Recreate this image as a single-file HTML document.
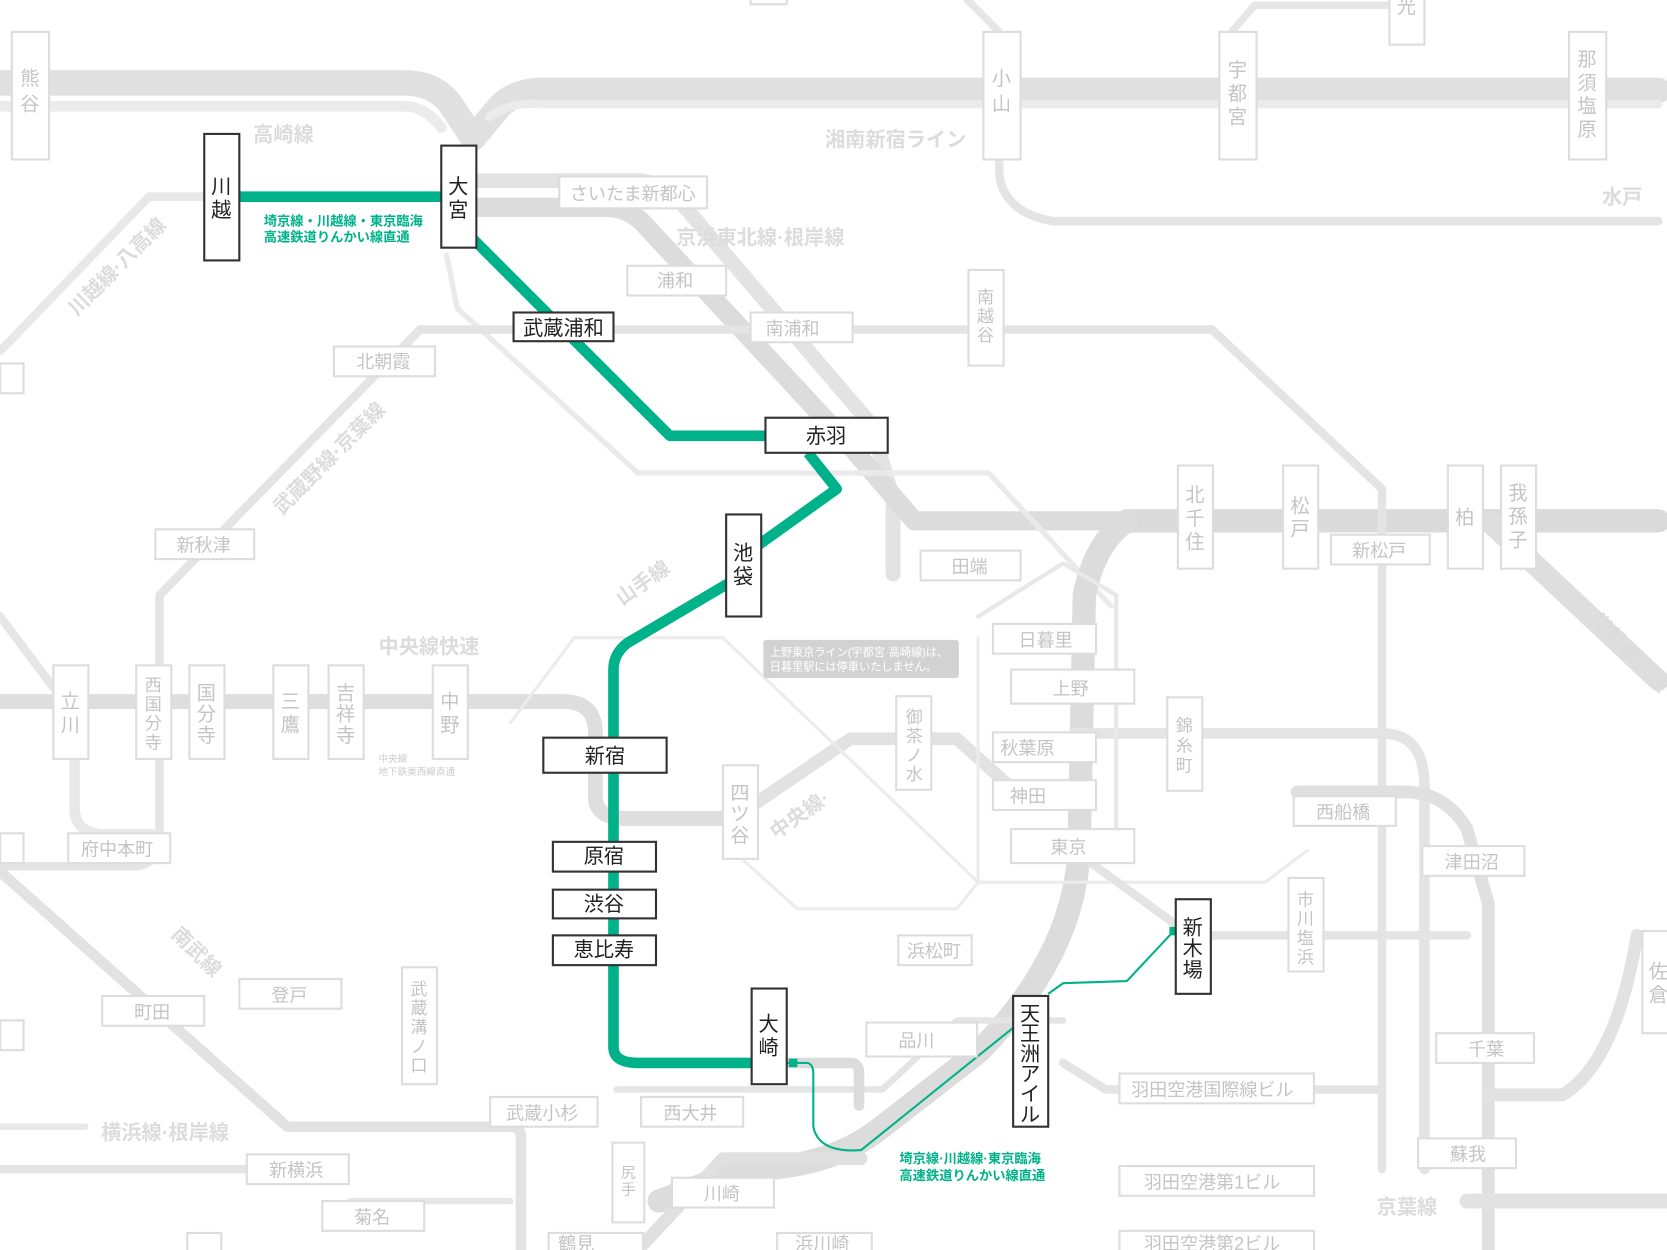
<!DOCTYPE html>
<html><head><meta charset="utf-8"><style>
html,body{margin:0;padding:0;background:#fff;overflow:hidden}
svg{display:block}
text{font-family:"Liberation Sans","Noto Sans CJK JP",sans-serif}
.g{fill:#fff;stroke:#ddd;stroke-width:2}
.gt{fill:#c4c4c4;font-size:17px}
.b{fill:#fff;stroke:#333;stroke-width:2}
.bt{fill:#222;font-size:19px}
.lbl{fill:#dcdcdc;font-size:19px;font-weight:bold}
</style></head><body>
<svg width="1667" height="1250" viewBox="0 0 1568 1176" xmlns="http://www.w3.org/2000/svg">
<g fill="none" stroke-linecap="round" stroke-linejoin="round">
<path d="M0,78 L380,78 Q410,78 425,100 L445,130 L470,100 Q485,85 510,85 L1560,85" stroke="#e0e0e0" stroke-width="24"/>
<path d="M0,100 L380,100 Q400,100 415,120" stroke="#ebebeb" stroke-width="10"/>
<path d="M460,110 Q480,95 510,98 L1560,98" stroke="#ebebeb" stroke-width="8"/>
<path d="M940,150 L940,165 Q945,200 990,208 L1560,208" stroke="#e4e4e4" stroke-width="8"/>
<path d="M1150,40 L1180,5 L1330,5" stroke="#e6e6e6" stroke-width="7"/>
<path d="M910,0 L940,30" stroke="#e6e6e6" stroke-width="7"/>
<path d="M450,170 L600,170 Q620,170 640,190 L820,400 L840,470 L840,540" stroke="#e3e3e3" stroke-width="14"/>
<path d="M450,195 L570,195 Q590,195 605,210 L800,420 L860,490 L1060,490" stroke="#dcdcdc" stroke-width="18"/>
<path d="M420,240 L430,290 L600,445 L930,445 L1045,570" stroke="#eaeaea" stroke-width="5"/>
<path d="M1060,490 L1560,490" stroke="#dadada" stroke-width="22"/>
<path d="M1060,490 Q1030,510 1020,560 L1015,800 Q1010,900 920,990 L830,1060 Q780,1100 700,1100 L620,1130" stroke="#dcdcdc" stroke-width="22"/>
<path d="M1400,490 L1560,640" stroke="#dedede" stroke-width="20"/>
<path d="M0,330 L10,320 L140,185 L415,185" stroke="#e8e8e8" stroke-width="8"/>
<path d="M395,310 L1140,310 L1300,460 L1300,1100" stroke="#e4e4e4" stroke-width="8"/>
<path d="M395,310 L150,560 L150,790 Q150,810 130,815 L0,815" stroke="#e4e4e4" stroke-width="8"/>
<path d="M0,820 L270,1060 L480,1060 Q490,1060 490,1070 L490,1176" stroke="#e2e2e2" stroke-width="10"/>
<path d="M0,1100 L300,1100" stroke="#e4e4e4" stroke-width="8"/>
<path d="M0,580 L60,660" stroke="#e6e6e6" stroke-width="8"/>
<path d="M0,660 L530,660 Q560,660 560,690 L560,750 Q560,770 590,770 L690,770" stroke="#dedede" stroke-width="14"/>
<path d="M70,700 L70,760 Q70,785 100,785 L150,785" stroke="#e8e8e8" stroke-width="10"/>
<path d="M690,770 L800,695 L900,695 L950,740 L1010,740" stroke="#e2e2e2" stroke-width="12"/>
<path d="M1010,690 L1300,690 Q1340,690 1340,740 L1340,1100" stroke="#e4e4e4" stroke-width="10"/>
<path d="M1220,745 L1320,745 Q1360,745 1380,780 L1400,850 L1400,1176" stroke="#e0e0e0" stroke-width="12"/>
<path d="M1540,880 Q1520,1000 1470,1030 L1400,1030" stroke="#e2e2e2" stroke-width="12"/>
<path d="M1380,1130 L1568,1130" stroke="#e2e2e2" stroke-width="14"/>
<path d="M540,600 L680,600 L920,830 L1060,830 L1190,830 L1230,800" stroke="#ececec" stroke-width="3"/>
<path d="M920,580 L1000,530 L1050,560 L1050,780" stroke="#e8e8e8" stroke-width="4"/>
<path d="M700,810 L750,855 L900,855 L920,830 L920,600" stroke="#ececec" stroke-width="3"/>
<path d="M480,680 L540,600" stroke="#ececec" stroke-width="3"/>
<path d="M1010,800 L1120,880 L1380,880" stroke="#e4e4e4" stroke-width="8"/>
<path d="M1000,1000 L1040,1025 L1300,1025" stroke="#e4e4e4" stroke-width="8"/>
<path d="M580,1025 L830,1025 L900,960 L1000,960" stroke="#e4e4e4" stroke-width="6"/>
<path d="M330,1130 L480,1130" stroke="#e6e6e6" stroke-width="6"/>
<path d="M600,1176 L680,1090 L810,1090" stroke="#e0e0e0" stroke-width="12"/>
<path d="M0,1060 L80,1060" stroke="#e8e8e8" stroke-width="6"/>
<path d="M740,1000 L800,1000 Q808,1000 808,1010 L808,1040" stroke="#dcdcdc" stroke-width="10"/>
</g>
<g fill="none" stroke="#00b28a" stroke-width="10" stroke-linejoin="round">
<path d="M225,185 L415,185"/>
<path d="M445,225 L630,410 L725,410"/>
<path d="M760,426 L787,460 L713,513"/>
<path d="M700,540 L590,605 Q577,615 577,630 L577,985 Q577,1000 600,1000 L710,1000"/>
</g>
<path d="M740,1000 L760,1000 Q765,1002 765,1010 L765,1060 Q770,1085 810,1082 L953,967 M986,935 L1000,925 L1060,923 L1105,875" fill="none" stroke="#00b28a" stroke-width="2"/>
<rect x="742" y="996" width="8" height="8" fill="#00b28a"/>
<rect x="1100" y="872" width="8" height="8" fill="#00b28a"/>
<text x="248" y="212" fill="#00b28a" font-size="12.5" font-weight="bold">埼京線・川越線・東京臨海</text>
<text x="248" y="227" fill="#00b28a" font-size="12.5" font-weight="bold">高速鉄道りんかい線直通</text>
<text x="846" y="1094" fill="#00b28a" font-size="12.5" font-weight="bold">埼京線·川越線·東京臨海</text>
<text x="846" y="1110" fill="#00b28a" font-size="12.5" font-weight="bold">高速鉄道りんかい線直通</text>
<text class="lbl" x="238" y="133">高崎線</text>
<text class="lbl" x="776" y="138">湘南新宿ライン</text>
<text class="lbl" x="636" y="230">京浜東北線·根岸線</text>
<text class="lbl" x="356" y="615">中央線快速</text>
<text class="lbl" x="95" y="1072">横浜線·根岸線</text>
<text class="lbl" x="1295" y="1142">京葉線</text>
<text class="lbl" x="1507" y="192">水戸</text>
<text class="lbl" transform="translate(72,298) rotate(-45)">川越線·八高線</text>
<text class="lbl" transform="translate(265,485) rotate(-45)">武蔵野線·京葉線</text>
<text class="lbl" transform="translate(585,570) rotate(-35)">山手線</text>
<text class="lbl" transform="translate(160,880) rotate(45)">南武線</text>
<text class="lbl" transform="translate(1495,585) rotate(45)">常磐線快速</text>
<text class="lbl" transform="translate(730,790) rotate(-35)" font-size="16">中央線·</text>
<text x="356" y="717" fill="#ccc" font-size="9">中央線</text>
<text x="356" y="729" fill="#ccc" font-size="9">地下鉄東西線直通</text>
<rect x="718" y="602" width="184" height="36" rx="3" fill="#d2d2d2"/>
<text x="724" y="617" fill="#fff" font-size="10.5">上野東京ライン(宇都宮·高崎線)は、</text>
<text x="724" y="631" fill="#fff" font-size="10.5">日暮里駅には停車いたしません。</text>
<g>
<rect class="g" x="526" y="166" width="139" height="30"/><text class="gt" x="536" y="188">さいたま新都心</text>
<rect class="g" x="590" y="250" width="93" height="28"/><text class="gt" x="618" y="270">浦和</text>
<rect class="g" x="706" y="294" width="96" height="28"/><text class="gt" x="720" y="315">南浦和</text>
<rect class="g" x="314" y="326" width="95" height="28"/><text class="gt" x="335" y="346">北朝霞</text>
<rect class="g" x="146" y="498" width="93" height="28"/><text class="gt" x="166" y="519">新秋津</text>
<rect class="g" x="866" y="518" width="94" height="28"/><text class="gt" x="895" y="539">田端</text>
<rect class="g" x="1252" y="503" width="93" height="28"/><text class="gt" x="1272" y="524">新松戸</text>
<rect class="g" x="934" y="587" width="97" height="28"/><text class="gt" x="958" y="608">日暮里</text>
<rect class="g" x="951" y="630" width="116" height="32"/><text class="gt" x="990" y="654" font-size="19">上野</text>
<rect class="g" x="934" y="689" width="97" height="28"/><text class="gt" x="941" y="710">秋葉原</text>
<rect class="g" x="934" y="734" width="97" height="28"/><text class="gt" x="950" y="755">神田</text>
<rect class="g" x="951" y="780" width="116" height="32"/><text class="gt" x="988" y="803" font-size="19">東京</text>
<rect class="g" x="1217" y="749" width="96" height="28"/><text class="gt" x="1238" y="770">西船橋</text>
<rect class="g" x="1338" y="796" width="96" height="28"/><text class="gt" x="1359" y="817">津田沼</text>
<rect class="g" x="64" y="784" width="96" height="28"/><text class="gt" x="76" y="805">府中本町</text>
<rect class="g" x="845" y="880" width="69" height="28"/><text class="gt" x="853" y="901">浜松町</text>
<rect class="g" x="815" y="962" width="104" height="32"/><text class="gt" x="845" y="985" font-size="19">品川</text>
<rect class="g" x="96" y="937" width="96" height="28"/><text class="gt" x="126" y="958">町田</text>
<rect class="g" x="225" y="921" width="96" height="28"/><text class="gt" x="255" y="942">登戸</text>
<rect class="g" x="461" y="1032" width="101" height="28"/><text class="gt" x="476" y="1053">武蔵小杉</text>
<rect class="g" x="603" y="1032" width="96" height="28"/><text class="gt" x="624" y="1053">西大井</text>
<rect class="g" x="232" y="1086" width="96" height="28"/><text class="gt" x="253" y="1107">新横浜</text>
<rect class="g" x="303" y="1130" width="96" height="28"/><text class="gt" x="333" y="1151">菊名</text>
<rect class="g" x="632" y="1108" width="96" height="28"/><text class="gt" x="662" y="1129">川崎</text>
<rect class="g" x="1053" y="1010" width="183" height="28"/><text class="gt" x="1064" y="1031">羽田空港国際線ビル</text>
<rect class="g" x="1053" y="1097" width="183" height="28"/><text class="gt" x="1076" y="1118">羽田空港第1ビル</text>
<rect class="g" x="1053" y="1158" width="183" height="28"/><text class="gt" x="1076" y="1176">羽田空港第2ビル</text>
<rect class="g" x="1351" y="972" width="92" height="28"/><text class="gt" x="1381" y="993">千葉</text>
<rect class="g" x="1334" y="1071" width="92" height="28"/><text class="gt" x="1364" y="1092">蘇我</text>
<rect class="g" x="731" y="1160" width="89" height="28"/><text class="gt" x="748" y="1176">浜川崎</text>
<rect class="g" x="516" y="1160" width="89" height="28"/><text class="gt" x="525" y="1176">鶴見</text>
<rect class="g" x="0" y="342" width="22" height="28"/><rect class="g" x="0" y="784" width="22" height="28"/><rect class="g" x="0" y="960" width="22" height="28"/>
<rect class="g" x="176" y="1160" width="32" height="28"/><rect class="g" x="706" y="-20" width="34" height="24"/>
</g>
<g font-size="18" fill="#c4c4c4" text-anchor="middle">
<rect class="g" x="11" y="30" width="35" height="120"/><text x="28" y="80">熊</text><text x="28" y="104">谷</text>
<rect class="g" x="925" y="30" width="35" height="120"/><text x="942" y="80">小</text><text x="942" y="104">山</text>
<rect class="g" x="1147" y="30" width="35" height="120"/><text x="1164" y="72">宇</text><text x="1164" y="94">都</text><text x="1164" y="116">宮</text>
<rect class="g" x="1476" y="30" width="35" height="120"/><text x="1493" y="62">那</text><text x="1493" y="84">須</text><text x="1493" y="106">塩</text><text x="1493" y="128">原</text>
<rect class="g" x="1307" y="-10" width="33" height="52"/><text x="1323" y="12">光</text>
<rect class="g" x="911" y="254" width="33" height="90"/><text x="927" y="285" font-size="16">南</text><text x="927" y="303" font-size="16">越</text><text x="927" y="321" font-size="16">谷</text>
<rect class="g" x="1108" y="438" width="33" height="97"/><text x="1124" y="472">北</text><text x="1124" y="494">千</text><text x="1124" y="516">住</text>
<rect class="g" x="1207" y="438" width="33" height="97"/><text x="1223" y="482">松</text><text x="1223" y="504">戸</text>
<rect class="g" x="1362" y="438" width="33" height="97"/><text x="1378" y="493">柏</text>
<rect class="g" x="1412" y="438" width="33" height="97"/><text x="1428" y="470">我</text><text x="1428" y="492">孫</text><text x="1428" y="514">子</text>
<rect class="g" x="50" y="626" width="33" height="88"/><text x="66" y="666">立</text><text x="66" y="688">川</text>
<rect class="g" x="128" y="626" width="33" height="88"/><text x="144" y="650" font-size="16">西</text><text x="144" y="668" font-size="16">国</text><text x="144" y="686" font-size="16">分</text><text x="144" y="704" font-size="16">寺</text>
<rect class="g" x="178" y="626" width="33" height="88"/><text x="194" y="658">国</text><text x="194" y="678">分</text><text x="194" y="698">寺</text>
<rect class="g" x="257" y="626" width="33" height="88"/><text x="273" y="666">三</text><text x="273" y="688">鷹</text>
<rect class="g" x="309" y="626" width="33" height="88"/><text x="325" y="658">吉</text><text x="325" y="678">祥</text><text x="325" y="698">寺</text>
<rect class="g" x="407" y="626" width="33" height="88"/><text x="423" y="666">中</text><text x="423" y="688">野</text>
<rect class="g" x="843" y="655" width="33" height="88"/><text x="860" y="680" font-size="16">御</text><text x="860" y="698" font-size="16">茶</text><text x="860" y="716" font-size="16">ノ</text><text x="860" y="734" font-size="16">水</text>
<rect class="g" x="680" y="720" width="33" height="88"/><text x="696" y="752">四</text><text x="696" y="772">ツ</text><text x="696" y="792">谷</text>
<rect class="g" x="1098" y="656" width="33" height="88"/><text x="1114" y="688" font-size="16">錦</text><text x="1114" y="707" font-size="16">糸</text><text x="1114" y="726" font-size="16">町</text>
<rect class="g" x="1212" y="826" width="33" height="88"/><text x="1228" y="852" font-size="16">市</text><text x="1228" y="870" font-size="16">川</text><text x="1228" y="888" font-size="16">塩</text><text x="1228" y="906" font-size="16">浜</text>
<rect class="g" x="378" y="910" width="33" height="110"/><text x="394" y="936" font-size="16">武</text><text x="394" y="954" font-size="16">蔵</text><text x="394" y="972" font-size="16">溝</text><text x="394" y="990" font-size="16">ノ</text><text x="394" y="1008" font-size="16">口</text>
<rect class="g" x="576" y="1075" width="30" height="75"/><text x="591" y="1108" font-size="14">尻</text><text x="591" y="1124" font-size="14">手</text>
<rect class="g" x="1545" y="876" width="33" height="96"/><text x="1560" y="920">佐</text><text x="1560" y="942">倉</text>
</g>
<g text-anchor="middle">
<rect class="b" x="192" y="126" width="33" height="119"/><text class="bt" x="208" y="182" font-size="21">川</text><text class="bt" x="208" y="204" font-size="21">越</text>
<rect class="b" x="415" y="137" width="33" height="96"/><text class="bt" x="431" y="182" font-size="21">大</text><text class="bt" x="431" y="204" font-size="21">宮</text>
<rect class="b" x="483" y="294" width="94" height="27"/><text class="bt" x="530" y="315" font-size="17">武蔵浦和</text>
<rect class="b" x="720" y="393" width="115" height="33"/><text class="bt" x="777" y="417">赤羽</text>
<rect class="b" x="683" y="484" width="33" height="96"/><text class="bt" x="699" y="527" font-size="21">池</text><text class="bt" x="699" y="549" font-size="21">袋</text>
<rect class="b" x="511" y="694" width="116" height="33"/><text class="bt" x="569" y="718">新宿</text>
<rect class="b" x="520" y="792" width="97" height="28"/><text class="bt" x="568" y="812" font-size="17">原宿</text>
<rect class="b" x="520" y="837" width="97" height="27"/><text class="bt" x="568" y="857" font-size="17">渋谷</text>
<rect class="b" x="520" y="880" width="97" height="28"/><text class="bt" x="568" y="900" font-size="17">恵比寿</text>
<rect class="b" x="707" y="930" width="33" height="90"/><text class="bt" x="723" y="970" font-size="21">大</text><text class="bt" x="723" y="992" font-size="21">崎</text>
<rect class="b" x="953" y="937" width="33" height="123"/><text class="bt" x="969" y="960" font-size="17">天</text><text class="bt" x="969" y="979" font-size="17">王</text><text class="bt" x="969" y="998" font-size="17">洲</text><text class="bt" x="969" y="1017" font-size="17">ア</text><text class="bt" x="969" y="1036" font-size="17">イ</text><text class="bt" x="969" y="1055" font-size="17">ル</text>
<rect class="b" x="1106" y="846" width="33" height="89"/><text class="bt" x="1122" y="879" font-size="19">新</text><text class="bt" x="1122" y="899" font-size="19">木</text><text class="bt" x="1122" y="919" font-size="19">場</text>
</g>
</svg>
</body></html>
